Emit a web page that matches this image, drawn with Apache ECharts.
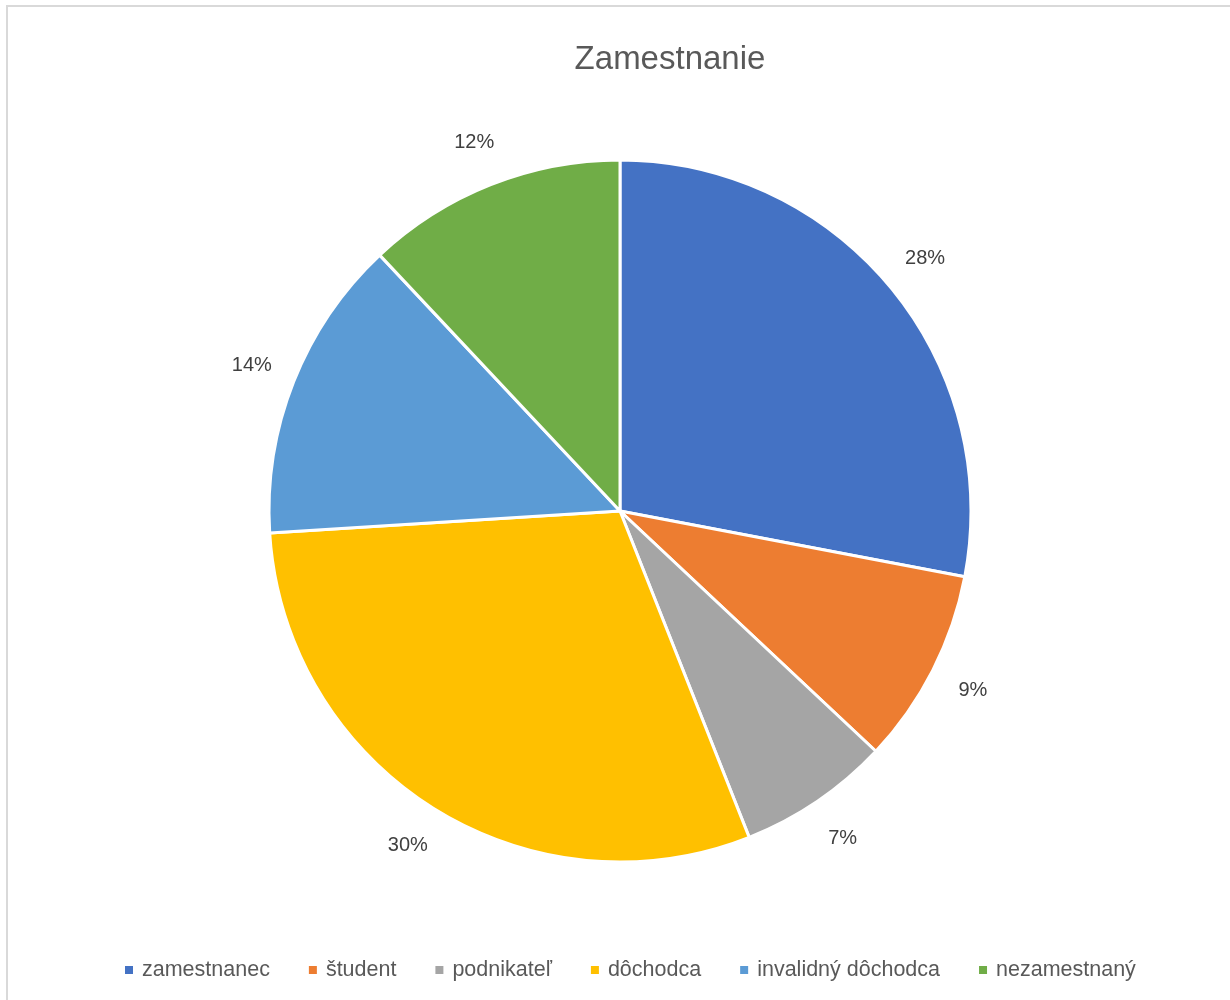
<!DOCTYPE html>
<html>
<head>
<meta charset="utf-8">
<script src="https://cdn.jsdelivr.net/npm/echarts@6/dist/echarts.min.js"></script>
<style>
  html, body { margin: 0; padding: 0; background: #fff; }
  #chart { width: 1230px; height: 1000px; }
</style>
</head>
<body>
<div id="chart"></div>
<script>
const categories = ['zamestnanec', 'študent', 'podnikateľ', 'dôchodca', 'invalidný dôchodca', 'nezamestnaný']
const values = [28, 9, 7, 30, 14, 12]
const colors = ['#4472C4', '#ED7D31', '#A5A5A5', '#FFC000', '#5B9BD5', '#70AD47']

const font = 'Liberation Sans, Arial, sans-serif'
const pieData = categories.map((name, i) => ({ name: name, value: values[i] }))

const chart = echarts.init(document.getElementById('chart'))
const option = {
  color: colors,
  animation: false,
  title: {
    text: 'Zamestnanie',
    left: 665,
    top: 38,
    textAlign: 'center',
    textStyle: { fontFamily: font, fontSize: 33, fontWeight: 'normal', color: '#595959' }
  },
  legend: {
    data: categories,
    top: 954,
    left: 118,
    icon: 'rect',
    itemWidth: 10,
    itemHeight: 10,
    itemGap: 37,
    textStyle: { fontFamily: font, fontSize: 21.5, color: '#595959', padding: [0, 0, 0, 3] }
  },
  graphic: [{
    type: 'rect',
    shape: { x: 7, y: 6, width: 1400, height: 1200 },
    style: { fill: 'none', stroke: '#d9d9d9', lineWidth: 2 },
    silent: true
  }],
  series: [
    {
      type: 'pie',
      center: [620, 511],
      radius: 351,
      startAngle: 90,
      clockwise: true,
      silent: true,
      data: pieData,
      itemStyle: { borderColor: '#fff', borderWidth: 3 },
      label: { show: false },
      labelLine: { show: false }
    },
    {
      // transparent ring only used to place the percentage labels
      type: 'pie',
      center: [620, 511],
      radius: [376, 410],
      startAngle: 90,
      clockwise: true,
      silent: true,
      data: pieData,
      itemStyle: { color: 'rgba(0,0,0,0)' },
      label: {
        show: true,
        position: 'inside',
        rotate: 0,
        formatter: '{d}%',
        fontFamily: font,
        fontSize: 20,
        color: '#404040'
      },
      labelLine: { show: false }
    }
  ]
}

option && chart.setOption(option)
</script>
</body>
</html>
